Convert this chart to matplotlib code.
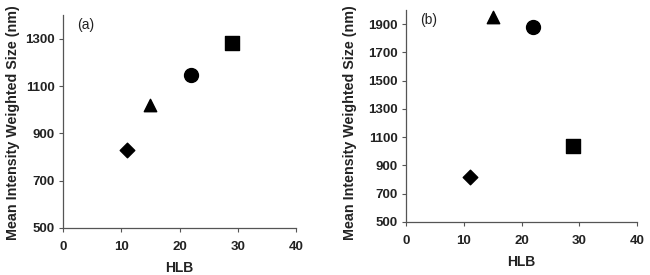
import matplotlib
matplotlib.use("Agg")
import matplotlib.pyplot as plt

plt.rcParams['font.family'] = ['Liberation Sans', 'DejaVu Sans']
plt.rcParams['font.weight'] = 'bold'

hlb = [11, 15, 22, 29]
markers = ['D', '^', 'o', 's']
sizes = [55, 80, 100, 100]
size_a = [830, 1020, 1145, 1280]
size_b = [820, 1950, 1880, 1040]

fig = plt.figure(figsize=(6.5, 2.75), dpi=100)
ax1 = fig.add_axes([63 / 650, 1 - 228 / 275, 233 / 650, 213 / 275])
ax2 = fig.add_axes([406 / 650, 1 - 222 / 275, 231 / 650, 212 / 275])


def style(ax, ylim, yticks, tag, label_xy):
    ax.set_xlim(0, 40)
    ax.set_ylim(*ylim)
    ax.set_xticks([0, 10, 20, 30, 40])
    ax.set_yticks(yticks)
    for s in ['top', 'right']:
        ax.spines[s].set_visible(False)
    for s in ['left', 'bottom']:
        ax.spines[s].set_color('#555555')
        ax.spines[s].set_linewidth(0.9)
    ax.tick_params(direction='out', length=3, width=0.8, color='#555555',
                   labelsize=9.5, pad=3)
    ax.tick_params(axis='x', pad=6)
    for lab in ax.get_xticklabels() + ax.get_yticklabels():
        lab.set_fontweight('bold')
        lab.set_color('#222222')
    ax.set_xlabel('HLB', fontsize=10, fontweight='bold', color='#222222', labelpad=6)
    ax.set_ylabel('Mean Intensity Weighted Size (nm)', fontsize=10.3,
                  fontweight='bold', color='#222222')
    ax.yaxis.set_label_coords(*label_xy, transform=fig.transFigure)
    ax.text(0.06, 0.985, tag, transform=ax.transAxes, fontsize=10,
            fontweight='normal', va='top', color='#222222')


for ax, vals in [(ax1, size_a), (ax2, size_b)]:
    for x, y, m, s in zip(hlb, vals, markers, sizes):
        ax.scatter(x, y, marker=m, s=s, color='black', zorder=3, clip_on=False)

style(ax1, (500, 1400), [500, 700, 900, 1100, 1300], '(a)',
      (20 / 650, 1 - 123 / 275))
style(ax2, (500, 2000), [500, 700, 900, 1100, 1300, 1500, 1700, 1900], '(b)',
      (357 / 650, 1 - 123 / 275))

fig.savefig('out.png', dpi=100)
